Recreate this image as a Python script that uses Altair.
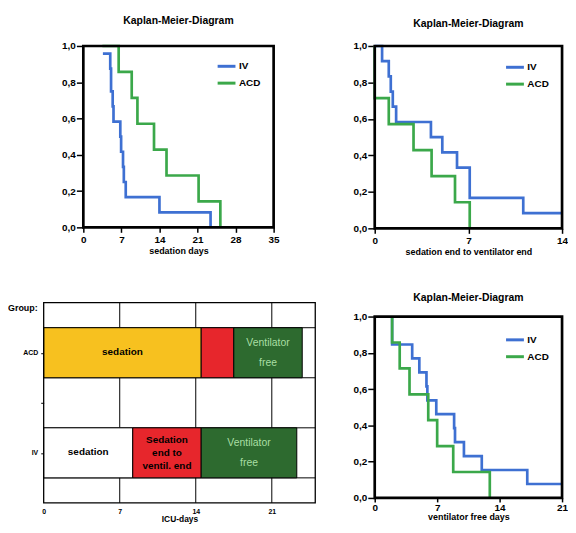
import altair as alt
import pandas as pd

FONT = "Liberation Sans"
BLUE = "#3e70d2"
GREEN = "#3ba84a"
KM_TITLE = "Kaplan-Meier-Diagram"
GROUPS = ["IV", "ACD"]

# ---- Panel A: sedation days ----
sed_iv_t = [3.6, 4.95, 5.1, 5.4, 5.55, 6.8, 6.95, 7.3, 7.45, 7.8, 14.0, 23.4]
sed_iv_s = [0.958, 0.875, 0.75, 0.667, 0.583, 0.5, 0.417, 0.333, 0.25, 0.167, 0.083, 0.0]
sed_acd_t = [3.5, 6.5, 8.9, 9.95, 13.0, 15.3, 21.2, 25.2]
sed_acd_s = [1.0, 0.857, 0.714, 0.571, 0.429, 0.286, 0.143, 0.0]

# ---- Panel B: sedation end to ventilator end ----
vent_iv_t = [0.0, 0.55, 1.05, 1.2, 1.35, 1.6, 4.2, 5.05, 6.15, 7.1, 11.1, 14.0]
vent_iv_s = [1.0, 0.917, 0.833, 0.75, 0.667, 0.583, 0.5, 0.417, 0.333, 0.167, 0.083, 0.083]
vent_acd_t = [0.0, 0.0, 1.05, 2.9, 4.25, 6.0, 7.1]
vent_acd_s = [1.0, 0.714, 0.571, 0.429, 0.286, 0.143, 0.0]

# ---- Panel D: ventilator free days ----
free_iv_t = [1.95, 1.95, 4.2, 5.0, 5.8, 5.9, 6.9, 8.9, 9.0, 10.0, 12.0, 17.1, 21.0]
free_iv_s = [1.0, 0.846, 0.769, 0.692, 0.615, 0.538, 0.462, 0.385, 0.308, 0.231, 0.154, 0.077, 0.077]
free_acd_t = [1.95, 1.95, 2.8, 3.9, 6.0, 7.0, 8.8, 12.9]
free_acd_s = [1.0, 0.857, 0.714, 0.571, 0.429, 0.286, 0.143, 0.0]

# ---- Panel C: ICU-days timeline ----
gantt_axis_rows = ["ACD", "", "IV"]
seg_group = ["ACD", "ACD", "ACD", "IV", "IV", "IV"]
seg_phase = ["sedation", "transition", "free", "sedation", "transition", "free"]
seg_start = [0, 14.5, 17.5, 0, 8.2, 14.5]
seg_end = [14.5, 17.5, 23.8, 8.2, 14.5, 23.3]
seg_text = ["sedation", "", "Ventilator\nfree", "sedation", "Sedation\nend to\nventil. end", "Ventilator\nfree"]
seg_fill = ["#f7c11f", "#e7262c", "#2d6a2f", "#ffffff", "#e7262c", "#2d6a2f"]
gantt_x_ticks = [0, 7, 14, 21]
gantt_x_max = 25
group_label = ["Group:"]

COMMA = "replace(format(datum.value, '.1f'), '.', ',')"


def km_df(iv_t, iv_s, acd_t, acd_s):
    rows = []
    for g, ts, ss in (("IV", iv_t, iv_s), ("ACD", acd_t, acd_s)):
        for i, (t, s) in enumerate(zip(ts, ss)):
            rows.append({"group": g, "t": t, "s": s, "i": i})
    return pd.DataFrame(rows)


def km_panel(df, x_max, x_ticks, x_title, w, h, lpad, leg_x, leg_y, row_pad, t_off,
             x_tick=5, x_lpad=2, x_tpad=2):
    xsc = alt.Scale(domain=[0, x_max], nice=False, zero=False, range=[lpad, lpad + w])
    ysc = alt.Scale(domain=[0, 1], nice=False, zero=False)
    xax = alt.Axis(values=x_ticks, title=x_title, grid=False, domain=False,
                   tickSize=x_tick, tickWidth=1.5, tickColor="black",
                   labelFontSize=10, labelFontWeight="bold", labelColor="black",
                   labelPadding=x_lpad, labelFlush=False,
                   titleFontSize=9, titleFontWeight="bold", titleColor="black", titlePadding=x_tpad)
    yax = alt.Axis(values=[0, 0.2, 0.4, 0.6, 0.8, 1.0], labelExpr=COMMA, title=None,
                   grid=False, domain=False, tickSize=7, tickWidth=1.5, tickColor="black",
                   labelFontSize=10, labelFontWeight="bold", labelColor="black",
                   labelPadding=1, labelFlush=False, offset=-lpad)
    color = alt.Color("group:N",
                      scale=alt.Scale(domain=GROUPS, range=[BLUE, GREEN]),
                      legend=alt.Legend(title=None, orient="none", legendX=leg_x, legendY=leg_y,
                                        symbolType="stroke", symbolStrokeWidth=3, symbolSize=324,
                                        labelFontSize=10, labelFontWeight="bold", labelColor="black",
                                        labelOffset=2, rowPadding=row_pad, padding=0))
    base = alt.Chart(df)
    layers = []
    for g in GROUPS:
        layers.append(
            base.transform_filter(alt.datum.group == g)
            .mark_line(interpolate="step-after", strokeWidth=2.7)
            .encode(x=alt.X("t:Q", scale=xsc, axis=xax),
                    y=alt.Y("s:Q", scale=ysc, axis=yax),
                    color=color,
                    order=alt.Order("i:Q"))
        )
    frame = alt.Chart(pd.DataFrame({"x0": [0], "x1": [x_max], "y0": [0], "y1": [1]})).mark_rect(
        fillOpacity=0, stroke="black", strokeWidth=2.7
    ).encode(x=alt.X("x0:Q", scale=xsc, axis=xax), x2="x1",
             y=alt.Y("y0:Q", scale=ysc, axis=yax), y2="y1")
    layers.append(frame)
    return alt.layer(*layers).properties(
        width=lpad + w, height=h,
        title=alt.TitleParams(KM_TITLE, anchor="middle", frame="group", dx=lpad / 2,
                              offset=t_off, fontSize=10.5, fontWeight="bold", font=FONT, color="black"),
    )


p1 = km_panel(km_df(sed_iv_t, sed_iv_s, sed_acd_t, sed_acd_s), 35, [0, 7, 14, 21, 28, 35],
              "sedation days", 192, 183, 40, 174, 10, -3, 14)
p2 = km_panel(km_df(vent_iv_t, vent_iv_s, vent_acd_t, vent_acd_s), 14, [0, 7, 14],
              "sedation end to ventilator end", 189, 184, 0, 131, 11, -1, 11)
p4 = km_panel(km_df(free_iv_t, free_iv_s, free_acd_t, free_acd_s), 21, [0, 7, 14, 21],
              "ventilator free days", 189, 183, 0, 131, 13, -5, 8,
              x_tick=4, x_lpad=1, x_tpad=0)

# ---- Gantt panel ----
gdf = pd.DataFrame({
    "group": seg_group, "phase": seg_phase, "start": seg_start, "end": seg_end,
    "label": seg_text, "fill": seg_fill,
})
gdf["row"] = [gantt_axis_rows.index(g) + 1 for g in gdf["group"]]
gdf["y0"] = gdf["row"] - 0.5
gdf["y1"] = gdf["row"] + 0.5
gdf["mid"] = (gdf["start"] + gdf["end"]) / 2

row_expr = " : ".join(
    f"datum.value == {i + 1} ? '{lab}'" for i, lab in enumerate(gantt_axis_rows)
) + " : ''"

gx = alt.Scale(domain=[0, gantt_x_max], nice=False, zero=False)
gy = alt.Scale(domain=[0, len(gantt_axis_rows) + 1], nice=False, zero=False, reverse=True)
gxax = alt.Axis(values=gantt_x_ticks, title="ICU-days", grid=False, domain=False, ticks=False,
                labelFontSize=7, labelFontWeight="bold", labelColor="black", labelPadding=5,
                labelFlush=False, titleFontSize=8.5, titleFontWeight="bold", titleColor="black",
                titlePadding=0)
gyax = alt.Axis(values=list(range(1, len(gantt_axis_rows) + 1)), labelExpr=row_expr, title=None,
                grid=False, domain=False, tickSize=3, tickColor="black", tickWidth=1,
                labelFontSize=7, labelFontWeight="bold", labelColor="black", labelPadding=3)

vgrid = pd.DataFrame({"v": gantt_x_ticks[1:]})
hgrid = pd.DataFrame({"h": [r + 0.5 for r in range(len(gantt_axis_rows) + 1)]})

vrules = alt.Chart(vgrid).mark_rule(color="black", strokeWidth=1).encode(
    x=alt.X("v:Q", scale=gx, axis=gxax))
hrules = alt.Chart(hgrid).mark_rule(color="black", strokeWidth=1).encode(
    y=alt.Y("h:Q", scale=gy, axis=gyax))
bars = alt.Chart(gdf).mark_rect(stroke="black", strokeWidth=1).encode(
    x=alt.X("start:Q", scale=gx, axis=gxax), x2="end",
    y=alt.Y("y0:Q", scale=gy, axis=gyax), y2="y1",
    fill=alt.Fill("fill:N", scale=None))


def seg_text_layer(phase, dy, line_h, color, weight, size):
    return alt.Chart(gdf).transform_filter(alt.datum.phase == phase).mark_text(
        font=FONT, fontSize=size, fontWeight=weight, color=color, lineBreak="\n",
        lineHeight=line_h, baseline="middle", dy=dy).encode(
        x=alt.X("mid:Q", scale=gx), y=alt.Y("row:Q", scale=gy), text="label:N")


txt_sed = seg_text_layer("sedation", -1, 13, "black", "bold", 10)
txt_tr = seg_text_layer("transition", -13, 13, "black", "bold", 10)
txt_free = seg_text_layer("free", -9.5, 19.5, "#a9dfa3", "normal", 10.5)

gframe = alt.Chart(pd.DataFrame({"x0": [0], "x1": [gantt_x_max], "y0": [0],
                                 "y1": [len(gantt_axis_rows) + 1]})).mark_rect(
    fillOpacity=0, stroke="black", strokeWidth=1.3).encode(
    x=alt.X("x0:Q", scale=gx), x2="x1", y=alt.Y("y0:Q", scale=gy), y2="y1")
grp = alt.Chart(pd.DataFrame({"t": group_label})).mark_text(
    font=FONT, fontSize=9, fontWeight="bold", color="black", align="left", baseline="middle").encode(
    x=alt.value(-36), y=alt.value(5), text="t:N")

p3 = alt.layer(vrules, hrules, bars, txt_sed, txt_tr, txt_free, gframe, grp).properties(
    width=274, height=202)

left = alt.vconcat(p1, p3, spacing=47).resolve_scale(color="independent").resolve_legend(color="independent")
right = alt.vconcat(p2, p4, spacing=37).resolve_scale(color="independent").resolve_legend(color="independent")

chart = alt.hconcat(left, right, spacing=37).resolve_scale(color="independent").resolve_legend(
    color="independent").properties(
    padding={"left": 0, "top": 6, "right": 0, "bottom": 0},
    background="white",
).configure_view(stroke=None).configure_axis(labelFont=FONT, titleFont=FONT).configure_legend(
    labelFont=FONT)

chart.save("out.html", embed_options={"renderer": "svg", "actions": False})
